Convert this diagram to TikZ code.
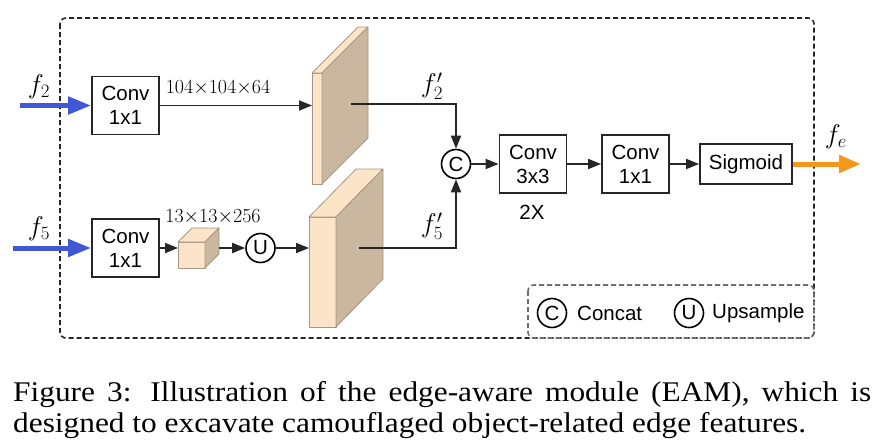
\documentclass[tikz,border=0pt]{standalone}
\usepackage{fix-cm}
\usepackage[no-math]{fontspec}
\setmainfont{Liberation Serif}
\setsansfont{Liberation Sans}
\newfontfamily\capfont{Liberation Serif}[FakeStretch=1.10]
\usepackage{amsmath,amssymb}
\usetikzlibrary{arrows.meta}

\definecolor{featfront}{RGB}{252,228,200}
\definecolor{featside}{RGB}{202,183,160}
\definecolor{featedge}{RGB}{168,150,130}
\definecolor{inblue}{RGB}{64,88,214}
\definecolor{outorange}{RGB}{243,152,28}
\definecolor{darkline}{RGB}{38,38,38}
\definecolor{legendgray}{RGB}{110,110,110}

\tikzset{
  convbox/.style={draw=darkline, line width=1.8pt, minimum width=67pt, minimum height=58pt,
    inner sep=0pt, align=center, font=\sffamily\fontsize{20.5}{24}\selectfont},
  opcirc/.style={circle, draw=black, line width=1.6pt, minimum size=29pt, inner sep=0pt,
    font=\sffamily\fontsize{20.5}{24}\selectfont},
  flow/.style={-{Triangle[length=13pt,width=10pt]}, line width=1.8pt, draw=darkline},
  inarrow/.style={-{Triangle[length=23pt,width=17pt]}, line width=5pt, draw=inblue},
  outarrow/.style={-{Triangle[length=22pt,width=17pt]}, line width=5pt, draw=outorange},
  frontface/.style={fill=featfront, draw=featedge, line width=0.8pt, line join=round},
  sideface/.style={fill=featside, draw=featedge, line width=0.8pt, line join=round},
  mathlbl/.style={inner sep=0pt, font=\fontsize{27}{30}\selectfont},
  dimlbl/.style={inner sep=0pt, font=\fontsize{20}{24}\selectfont},
  sanslbl/.style={inner sep=0pt, font=\sffamily\fontsize{20.5}{24}\selectfont},
  frame/.style={draw=darkline, dashed, dash pattern=on 5pt off 3pt, line width=1.6pt, rounded corners=6pt},
  legendframe/.style={draw=legendgray, dashed, dash pattern=on 5pt off 3pt, line width=1.6pt, rounded corners=6pt},
  caplbl/.style={inner sep=0pt, font=\capfont\fontsize{28.5}{31}\selectfont}
}

\begin{document}
\begin{tikzpicture}[x=1pt,y=-1pt,line cap=butt]
  \useasboundingbox (0,0) rectangle (886,445);
  % module frame
  \draw[frame] (60,18) rectangle (814,338);

  % f2 branch
  \node[convbox] (conv2) at (125.5,105.5) {Conv\\1x1};
  \coordinate (in2) at (20,105.5);
  \draw[inarrow] (in2) -- (conv2.west);
  \node[mathlbl] (f2) at (39,87) {$f_2$};
  \node[dimlbl] (dim2) at (218,88) {$104{\times}104{\times}64$};

  % feature map f2'
  \draw[frontface] (312,73) rectangle (322,184);
  \draw[frontface] (312,73) -- (358,27) -- (368,27) -- (322,73) -- cycle;
  \draw[sideface] (322,73) -- (368,27) -- (368,138) -- (322,184) -- cycle;
  \coordinate (s2in) at (312,105.5);
  \coordinate (s2out) at (351,104);
  \draw[flow] (conv2.east) -- (s2in);

  % f5 branch
  \node[convbox] (conv5) at (125.5,248) {Conv\\1x1};
  \coordinate (in5) at (13,248);
  \draw[inarrow] (in5) -- (conv5.west);
  \node[mathlbl] (f5) at (39,229) {$f_5$};
  \node[dimlbl] (dim5) at (213,217) {$13{\times}13{\times}256$};

  % small feature cube
  \draw[frontface] (178,242) rectangle (205,268);
  \draw[frontface] (178,242) -- (192,228) -- (219,228) -- (205,242) -- cycle;
  \draw[sideface] (205,242) -- (219,228) -- (219,254) -- (205,268) -- cycle;
  \coordinate (cubein) at (178,248);
  \coordinate (cubeout) at (219,248);
  \node[opcirc] (up) at (260.5,248) {U};

  % feature map f5'
  \draw[frontface] (309,217) rectangle (336,327);
  \draw[frontface] (309,217) -- (356,169) -- (383,169) -- (336,217) -- cycle;
  \draw[sideface] (336,217) -- (383,169) -- (383,279) -- (336,327) -- cycle;
  \coordinate (s5in) at (309,248);
  \coordinate (s5out) at (359,248);

  \draw[flow] (conv5.east) -- (cubein);
  \draw[flow] (cubeout) -- (up);
  \draw[flow] (up) -- (s5in);

  % fusion
  \node[opcirc] (cat) at (456,164) {C};
  \draw[flow] (s2out) -| (cat);
  \draw[flow] (s5out) -| (cat);
  \node[mathlbl] (f2p) at (432,86) {$f_2'$};
  \node[mathlbl] (f5p) at (432,226) {$f_5'$};

  \node[convbox] (conv33) at (533,164) {Conv\\3x3};
  \node[sanslbl] (rep) at (532,212) {2X};
  \node[convbox] (conv11) at (635.5,164) {Conv\\1x1};
  \node[convbox, minimum width=92pt, minimum height=40pt] (sig) at (746,164) {Sigmoid};
  \coordinate (out) at (861,164);
  \draw[flow] (cat) -- (conv33);
  \draw[flow] (conv33) -- (conv11);
  \draw[flow] (conv11) -- (sig);
  \draw[outarrow] (sig.east) -- (out);
  \node[mathlbl] (fe) at (836,137) {$f_e$};

  % legend
  \draw[legendframe] (528,285) rectangle (814,338);
  \node[opcirc] (legc) at (552,313) {C};
  \node[sanslbl, anchor=west] (legcat) at (577,313) {Concat};
  \node[opcirc] (legu) at (689,313) {U};
  \node[sanslbl, anchor=west] (legup) at (712,313) {Upsample};

  % caption
  \node[caplbl, anchor=base west] (cap1) at (13,401)
    {\makebox[858pt][s]{Figure 3: Illustration of the edge-aware module (EAM), which is}};
  \node[caplbl, anchor=base west] (cap2) at (13,432)
    {designed to excavate camouflaged object-related edge features.};
\end{tikzpicture}
\end{document}
